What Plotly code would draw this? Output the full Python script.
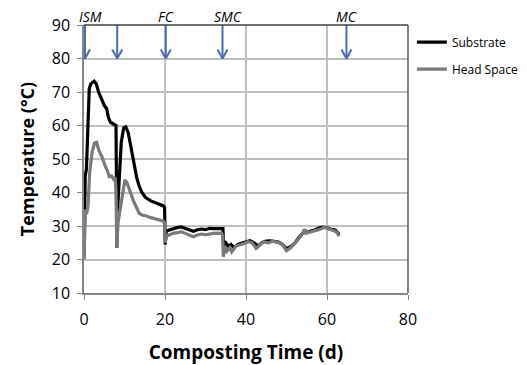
import plotly.graph_objects as go

# Substrate temperature
sub_t = [0, 0.15, 0.3, 0.6, 1.0, 1.3, 1.7, 2.5, 3.0, 3.6, 4.3, 5.0, 5.6, 6.0, 6.5, 7.2, 7.9, 8.0, 8.1,
         8.3, 8.7, 9.2, 9.8, 10.3, 10.9, 11.6, 12.3, 13.0, 13.6, 14.3, 15.2, 16.5, 17.5, 18.5, 19.6, 19.9,
         20.05, 20.3, 21, 22, 23, 24, 25, 26, 27, 28, 29, 30, 31, 32, 33, 34, 34.3, 34.45, 35, 35.6, 36.3,
         37, 38, 39, 40, 41, 42, 43, 44, 45, 46, 47, 48, 49, 50, 51, 52, 53, 54, 54.5, 54.8, 56, 57, 58,
         59, 60, 61, 62, 62.7, 63]
sub_v = [20.5, 36, 45, 47, 60, 71, 72.5, 73.2, 72.5, 70, 68, 66, 65, 62.5, 61, 60.5, 60, 45, 23.5,
         35, 46, 55, 59.3, 59.6, 58, 54, 49, 44.5, 42, 40, 38.5, 37.5, 37, 36.5, 36, 35.5,
         24.5, 28.5, 28.8, 29.2, 29.5, 29.7, 29.2, 28.8, 28.4, 28.9, 29.1, 28.9, 29.3, 29.2, 29.3, 29.3, 29.2, 24, 25, 24, 24.5,
         23.6, 24.5, 24.9, 25.3, 25.6, 25, 24, 25.1, 25.5, 25.6, 25.5, 25.2, 24.5, 23.2, 23.8, 24.8, 26.5, 27.8, 29, 28, 28.5, 28.8, 29.4,
         29.7, 29.5, 29, 28.8, 28, 27.5]

# Head space temperature
hs_t = [0, 0.15, 0.35, 0.6, 1.0, 1.4, 2.0, 2.6, 3.1, 3.7, 4.5, 5.2, 5.8, 6.2, 6.8, 7.3, 7.7, 7.9, 8.1,
        8.4, 8.9, 9.5, 10.1, 10.6, 11.3, 12.2, 13.0, 13.6, 14.5, 15.5, 16.5, 17.5, 18.5, 19.5, 19.9,
        20.05, 20.4, 21, 22, 23, 24, 25, 26, 27, 28, 29, 30, 31, 32, 33, 34, 34.25, 34.4, 34.8, 35.3, 36,
        36.5, 37.5, 38.5, 39.5, 40.5, 41.5, 42.5, 43.5, 44.3, 45.5, 46.7, 47.8, 48.8, 49.5, 50, 51, 52, 53, 54, 54.5, 54.8,
        56, 57.3, 58.3, 59.3, 60.5, 61.7, 62.5, 63]
hs_v = [20, 28, 35, 33.5, 36, 46, 52, 54.8, 55, 52.5, 50.5, 48, 46.5, 44.8, 45, 44, 44.5, 40, 23.5,
        31, 35, 40.5, 43.7, 43, 40.5, 37.5, 35.5, 33.8, 33.2, 33, 32.5, 32.2, 31.8, 31.5, 31,
        25, 27, 27.3, 27.8, 28, 28.3, 27.8, 27.2, 26.8, 27.3, 27.6, 27.4, 27.7, 27.8, 27.9, 27.8, 27, 20.8, 24, 22.5, 23.5,
        22.3, 24, 24.3, 24.8, 25.3, 25, 23.3, 24.6, 25.3, 25, 25.5, 25.1, 24.8, 23.5, 22.6, 23.5, 24.8, 26.2, 27.8, 29, 27.8,
        28.2, 28.8, 29, 29.6, 29.2, 28.6, 28, 27]

x_ticks = [0, 20, 40, 60, 80]
y_ticks = [10, 20, 30, 40, 50, 60, 70, 80, 90]

# Event arrows
event_days = [0.25, 8.2, 20.2, 34.2, 64.8]
event_labels = ["ISM", "", "FC", "SMC", "MC"]
label_shift = [5, 0, 0, 5, 0]

arrow_col = "#4a6db5"
font_fam = "Open Sans, Noto Sans, sans-serif"

fig = go.Figure()
fig.add_trace(go.Scatter(x=sub_t, y=sub_v, mode="lines", name="Substrate", legendgroup="a",
                         line=dict(color="#000000", width=3.2)))
fig.add_trace(go.Scatter(x=hs_t, y=hs_v, mode="lines", name="Head Space", legendgroup="b",
                         line=dict(color="#7a7a7a", width=3.2)))

shapes = []
annotations = []
for d, lab, sh in zip(event_days, event_labels, label_shift):
    shapes.append(dict(type="line", xref="x", yref="y", x0=d, x1=d, y0=90, y1=80,
                       line=dict(color=arrow_col, width=2)))
    for dx in (-5, 5):
        shapes.append(dict(type="line", xref="x", yref="y", xsizemode="pixel", ysizemode="pixel",
                           xanchor=d, yanchor=80, x0=dx, x1=0, y0=9, y1=0,
                           line=dict(color=arrow_col, width=2)))
    if lab:
        annotations.append(dict(x=d, y=1, xref="x", yref="paper", yanchor="bottom", text=lab,
                                showarrow=False, xshift=sh, yshift=-3,
                                font=dict(family=font_fam, size=14, color="#000000", style="italic")))

# darker top/right frame
shapes.append(dict(type="line", xref="paper", yref="paper", x0=0, x1=1, y0=1, y1=1,
                   line=dict(color="#404040", width=1.5)))
shapes.append(dict(type="line", xref="paper", yref="paper", x0=1, x1=1, y0=0, y1=1,
                   line=dict(color="#595959", width=1.5)))

# page body has an 8px default margin, so the figure is sized to fit inside it
fig.update_layout(
    width=519, height=357,
    margin=dict(l=76, r=119, t=17, b=72, autoexpand=False),
    paper_bgcolor="white", plot_bgcolor="white",
    font=dict(family=font_fam, size=16, color="#000000"),
    showlegend=True,
    legend=dict(x=1.012, y=0.99, xanchor="left", yanchor="top", bgcolor="rgba(0,0,0,0)",
                font=dict(size=12), tracegroupgap=8, itemwidth=30),
    shapes=shapes,
    annotations=annotations,
)
fig.update_xaxes(range=[0, 80], tickvals=x_ticks, showgrid=True, gridcolor="#bfbfbf", gridwidth=1.5,
                 showline=True, linecolor="#868686", linewidth=1.5, ticks="outside", ticklen=5,
                 tickcolor="#868686", zeroline=False, automargin=False, ticklabelstandoff=6,
                 title=dict(text="<b>Composting Time (d)</b>", font=dict(size=19), standoff=22))
fig.update_yaxes(range=[10, 90], tickvals=y_ticks, showgrid=True, gridcolor="#bfbfbf", gridwidth=1.5,
                 showline=True, linecolor="#868686", linewidth=1.5, ticks="outside", ticklen=5,
                 tickcolor="#868686", zeroline=False, automargin=False, ticklabelstandoff=4,
                 title=dict(text="<b>Temperature (°C)</b>", font=dict(size=18), standoff=12))

fig.write_html("out.html")
